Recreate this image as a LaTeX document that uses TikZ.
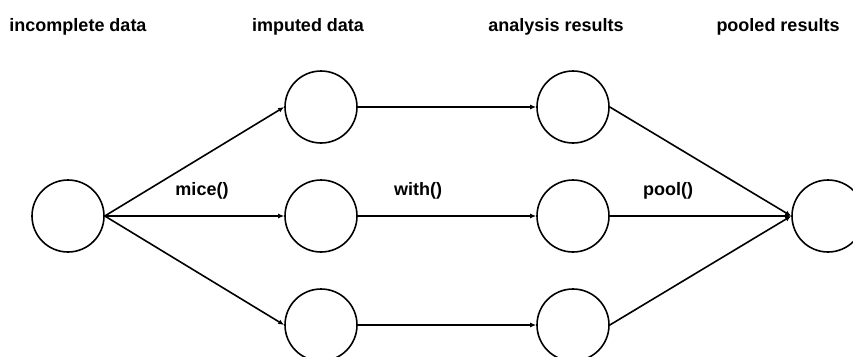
\documentclass[tikz,border=0pt]{standalone}
\usepackage{fontspec}
\setmainfont{Liberation Sans}
\usetikzlibrary{arrows.meta}
\tikzset{
  dot/.style={circle,draw=black,line width=1.6pt,minimum size=72pt,inner sep=0pt},
  flow/.style={line width=1.6pt,-{Latex[length=6pt,width=5pt]}},
  title/.style={font=\fontsize{18}{20}\selectfont\bfseries,anchor=base,inner sep=0pt},
  lab/.style={font=\fontsize{18}{20}\selectfont\bfseries,anchor=base,inner sep=0pt}
}
\begin{document}
\begin{tikzpicture}[x=1pt,y=-1pt]
\useasboundingbox (0,0) rectangle (853,356);
\clip (0,0) rectangle (853,356);
\fill[white] (0,0) rectangle (853,356);
\node[title] (t1) at (78,31) {incomplete data};
\node[title] (t2) at (308,31) {imputed data};
\node[title] (t3) at (556,31) {analysis results};
\node[title] (t4) at (778,31) {pooled results};
\node[dot] (in) at (68,216) {};
\node[dot] (i1) at (321,107) {};
\node[dot] (i2) at (321,216) {};
\node[dot] (i3) at (321,325) {};
\node[dot] (a1) at (573,107) {};
\node[dot] (a2) at (573,216) {};
\node[dot] (a3) at (573,325) {};
\node[dot] (out) at (828,216) {};
\foreach \k in {1,2,3}{
  \draw[flow] (in.east) -- (i\k.west);
  \draw[flow] (i\k.east) -- (a\k.west);
  \draw[flow] (a\k.east) -- (out.west);
}
\node[lab] (l1) at (202,195) {mice()};
\node[lab] (l2) at (418,195) {with()};
\node[lab] (l3) at (668,195) {pool()};
\end{tikzpicture}
\end{document}
